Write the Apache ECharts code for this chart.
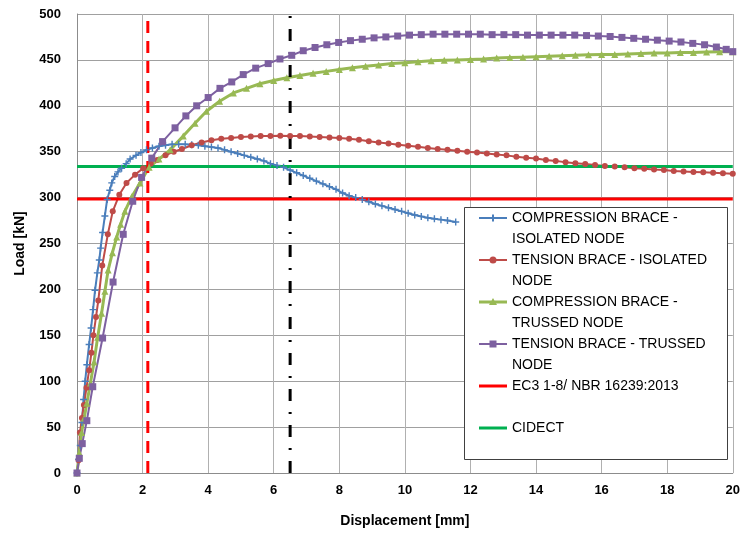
<!DOCTYPE html>
<html>
<head>
<meta charset="utf-8">
<script src="https://cdn.jsdelivr.net/npm/echarts@6/dist/echarts.min.js"></script>
<style>
  html, body { margin: 0; padding: 0; background: #ffffff; }
  #chart { width: 743px; height: 533px; }
</style>
</head>
<body>
<div id="chart"></div>
<script>
// compression brace - isolated node
var ciX = [0, 0.05, 0.1, 0.15, 0.2, 0.25, 0.3, 0.37, 0.43, 0.49, 0.55, 0.62, 0.68, 0.72, 0.78, 0.85, 0.92, 1.0, 1.06, 1.15, 1.25, 1.36, 1.5, 1.62, 1.8, 1.95, 2.12, 2.3, 2.5, 2.7, 2.9, 3.1, 3.3, 3.5, 3.7, 3.9, 4.1, 4.3, 4.5, 4.7, 4.9, 5.1, 5.3, 5.5, 5.7, 5.9, 6.1, 6.3, 6.5, 6.7, 6.9, 7.1, 7.3, 7.5, 7.7, 7.9, 8.1, 8.3, 8.5, 8.7, 8.9, 9.1, 9.3, 9.5, 9.7, 9.9, 10.1, 10.3, 10.5, 10.7, 10.9, 11.1, 11.3, 11.55];
var ciY = [0, 15, 30, 55, 80, 100, 118, 140, 158, 178, 199, 218, 232, 245, 262, 280, 298, 308, 316, 323, 328, 332, 337, 342, 346, 349, 352, 354, 356, 357, 358, 358, 358, 357.5, 357, 356, 355, 354, 352, 350, 348, 346, 344, 342, 340, 337, 335, 333, 330, 327, 324, 321, 318, 315, 312, 309, 305, 302, 300, 298, 295.5, 293, 291, 289, 287, 285, 283, 281, 279.5, 278, 277, 276, 275, 273.5];

// tension brace - isolated node
var tiX = [0, 0.05, 0.09, 0.15, 0.21, 0.29, 0.37, 0.44, 0.5, 0.58, 0.65, 0.77, 0.94, 1.09, 1.29, 1.51, 1.77, 2.02, 2.25, 2.45, 2.7, 2.95, 3.2, 3.5, 3.8, 4.1, 4.4, 4.7, 5.0, 5.3, 5.6, 5.9, 6.2, 6.5, 6.8, 7.1, 7.4, 7.7, 8.0, 8.3, 8.6, 8.9, 9.2, 9.5, 9.8, 10.1, 10.4, 10.7, 11.0, 11.3, 11.6, 11.9, 12.2, 12.5, 12.8, 13.1, 13.4, 13.7, 14.0, 14.3, 14.6, 14.9, 15.2, 15.5, 15.8, 16.1, 16.4, 16.7, 17.0, 17.3, 17.6, 17.9, 18.2, 18.5, 18.8, 19.1, 19.4, 19.7, 20.0];
var tiY = [0, 14, 44, 60, 74, 93, 112, 131, 150, 170, 188, 226, 260, 285, 303, 316, 325, 332, 337, 341, 346, 350, 353, 357, 360, 362.5, 364, 365, 366, 366.5, 367, 367, 367.5, 367, 367, 366.5, 366, 365.5, 365, 364, 363, 361.5, 360, 359, 357.5, 356.5, 355.5, 354, 353, 352, 351, 350, 349, 348, 347, 346, 344.5, 343.5, 342.5, 341, 340, 338.5, 337.5, 336.5, 335.5, 334.5, 334, 333, 332, 331.5, 330.5, 330, 329, 328.5, 328, 327.5, 327, 326.5, 326];

// compression brace - trussed node
var ctX = [0, 0.07, 0.14, 0.22, 0.3, 0.41, 0.52, 0.63, 0.75, 0.85, 0.95, 1.08, 1.21, 1.33, 1.46, 1.67, 1.92, 2.2, 2.5, 2.84, 3.24, 3.6, 3.95, 4.35, 4.77, 5.17, 5.58, 6.0, 6.4, 6.8, 7.2, 7.6, 8.0, 8.4, 8.8, 9.2, 9.6, 10.0, 10.4, 10.8, 11.2, 11.6, 12.0, 12.4, 12.8, 13.2, 13.6, 14.0, 14.4, 14.8, 15.2, 15.6, 16.0, 16.4, 16.8, 17.2, 17.6, 18.0, 18.4, 18.8, 19.2, 19.6, 20.0];
var ctY = [0, 22, 44, 60, 76, 98, 121, 148, 174, 198, 221, 240, 257, 271, 285, 301, 316, 333, 342, 352, 367, 381, 394, 405, 414, 419, 424, 427.5, 430.5, 433, 435.5, 437.5, 439.5, 441.5, 443, 444.5, 446, 447, 448, 449, 449.5, 450, 450.5, 451, 452, 452.5, 453, 453.5, 454, 454.5, 455, 455.5, 456, 456, 456.5, 457, 457.5, 457.5, 458, 458, 458.5, 459, 459];

// tension brace - trussed node
var ttX = [0, 0.07, 0.16, 0.3, 0.48, 0.78, 1.1, 1.41, 1.7, 1.97, 2.28, 2.61, 2.99, 3.32, 3.65, 4.0, 4.36, 4.72, 5.07, 5.45, 5.83, 6.19, 6.55, 6.9, 7.26, 7.62, 7.98, 8.34, 8.7, 9.06, 9.42, 9.78, 10.14, 10.5, 10.86, 11.22, 11.58, 11.94, 12.3, 12.66, 13.02, 13.38, 13.74, 14.1, 14.46, 14.82, 15.18, 15.54, 15.9, 16.26, 16.62, 16.98, 17.34, 17.7, 18.06, 18.42, 18.78, 19.14, 19.5, 19.8, 20.0];
var ttY = [0, 16, 32, 57, 94, 147, 208, 260, 296, 322, 343, 361, 376, 389, 400, 409, 419, 426, 434, 441, 446, 451, 455, 460, 463.5, 466.5, 469, 471, 472.5, 474, 475, 476, 477, 477.5, 478, 478, 478, 478, 478, 477.5, 477.5, 477.5, 477, 477, 477, 477, 477, 476.5, 476, 475.5, 474.5, 473.5, 472.5, 471.5, 470.5, 469.5, 468, 466.5, 464, 461.5, 459];

// design resistances (kN) and reference displacements (mm)
var ec3Load = 298.5;
var cidectLoad = 334;
var redLineX = 2.16;
var blackLineX = 6.5;

var names = [
  'COMPRESSION BRACE -\nISOLATED NODE',
  'TENSION BRACE - ISOLATED\nNODE',
  'COMPRESSION BRACE -\nTRUSSED NODE',
  'TENSION BRACE - TRUSSED\nNODE',
  'EC3 1-8/ NBR 16239:2013',
  'CIDECT'
];

function pairs(xs, ys) {
  var out = [];
  for (var i = 0; i < xs.length; i++) out.push([xs[i], ys[i]]);
  return out;
}

// legend icons drawn in a 28x42 box so the line sits on the first text line
var box = 'M0,0L0,0M28,42L28,42';
var iconPlus = 'path://' + box + 'M0,9.5H28V11.5H0Z' + 'M13,7H15V9.5H17.5V11.5H15V14H13V11.5H10.5V9.5H13Z';
var iconCircle = 'path://' + box + 'M0,9.5H28V11.5H0Z' + 'M10.5,10.5A3.5,3.5,0,1,1,17.5,10.5A3.5,3.5,0,1,1,10.5,10.5Z';
var iconTri = 'path://' + box + 'M0,9H28V12H0Z' + 'M14,6.5L18,13.5H10Z';
var iconRect = 'path://' + box + 'M0,9.5H28V11.5H0Z' + 'M10.5,7H17.5V14H10.5Z';
var iconLine = 'path://' + box + 'M0,9H28V12H0Z';

var plusPath = 'path://M4,0H6V4H10V6H6V10H4V6H0V4H4Z';
var font = 'Liberation Sans';

var myChart = echarts.init(document.getElementById('chart'));
myChart.setOption({
  animation: false,
  grid: { left: 77, right: 10, top: 14, bottom: 60 },
  // legend frame, drawn under the legend items
  graphic: [{
    type: 'rect',
    z: 3,
    shape: { x: 464.5, y: 207.5, width: 263, height: 252 },
    style: { fill: '#ffffff', stroke: '#404040', lineWidth: 1 }
  }],
  legend: {
    orient: 'vertical',
    left: 479,
    top: 207.5,
    z: 5,
    padding: 0,
    itemGap: 0,
    itemWidth: 28,
    itemHeight: 42,
    symbolKeepAspect: false,
    // every entry takes two text rows, like the Excel legend
    formatter: function (name) {
      return name.indexOf('\n') < 0 ? name + '\n ' : name;
    },
    textStyle: { fontFamily: font, fontSize: 14, color: '#000', lineHeight: 21 },
    data: [
      { name: names[0], icon: iconPlus },
      { name: names[1], icon: iconCircle },
      { name: names[2], icon: iconTri },
      { name: names[3], icon: iconRect },
      { name: names[4], icon: iconLine },
      { name: names[5], icon: iconLine }
    ]
  },
  xAxis: {
    type: 'value',
    min: 0,
    max: 20,
    interval: 2,
    name: 'Displacement [mm]',
    nameLocation: 'middle',
    nameGap: 41,
    nameTextStyle: { fontFamily: font, fontSize: 14, fontWeight: 'bold', color: '#000' },
    axisLine: { lineStyle: { color: '#8c8c8c' } },
    axisTick: { show: false },
    axisLabel: { fontFamily: font, fontSize: 13, fontWeight: 'bold', color: '#000', margin: 11 },
    splitLine: { lineStyle: { color: '#b0b0b0' } }
  },
  yAxis: {
    type: 'value',
    min: 0,
    max: 500,
    interval: 50,
    name: 'Load [kN]',
    nameLocation: 'middle',
    nameGap: 50,
    nameTextStyle: { fontFamily: font, fontSize: 14, fontWeight: 'bold', color: '#000' },
    axisLine: { show: true, lineStyle: { color: '#8c8c8c' } },
    axisTick: { show: false },
    axisLabel: { fontFamily: font, fontSize: 13, fontWeight: 'bold', color: '#000', margin: 16 },
    splitLine: { lineStyle: { color: '#a0a0a0' } }
  },
  series: [
    {
      name: names[0], type: 'line', data: pairs(ciX, ciY),
      symbol: plusPath, symbolSize: 7,
      lineStyle: { color: '#4a7ebb', width: 2 },
      itemStyle: { color: '#4a7ebb' }
    },
    {
      name: names[1], type: 'line', data: pairs(tiX, tiY),
      symbol: 'circle', symbolSize: 6,
      lineStyle: { color: '#be4b48', width: 2 },
      itemStyle: { color: '#be4b48' }
    },
    {
      name: names[2], type: 'line', data: pairs(ctX, ctY),
      symbol: 'triangle', symbolSize: 7,
      lineStyle: { color: '#98b954', width: 3 },
      itemStyle: { color: '#98b954' }
    },
    {
      name: names[3], type: 'line', data: pairs(ttX, ttY),
      symbol: 'rect', symbolSize: 7,
      lineStyle: { color: '#7d60a0', width: 2 },
      itemStyle: { color: '#7d60a0' }
    },
    {
      name: names[4], type: 'line', data: [[0, ec3Load], [20, ec3Load]],
      symbol: 'none',
      lineStyle: { color: '#ff0000', width: 3 },
      itemStyle: { color: '#ff0000' }
    },
    {
      name: names[5], type: 'line', data: [[0, cidectLoad], [20, cidectLoad]],
      symbol: 'none',
      lineStyle: { color: '#00b050', width: 3 },
      itemStyle: { color: '#00b050' }
    },
    {
      name: 'red limit', type: 'line', data: [[redLineX, 0], [redLineX, 500]],
      symbol: 'none',
      lineStyle: { color: '#ff0000', width: 3, type: [12, 8] }
    },
    {
      name: 'black limit', type: 'line', data: [[blackLineX, 0], [blackLineX, 500]],
      symbol: 'none',
      lineStyle: { color: '#000000', width: 3, type: [12, 11, 2, 11] }
    }
  ]
});
</script>
</body>
</html>
